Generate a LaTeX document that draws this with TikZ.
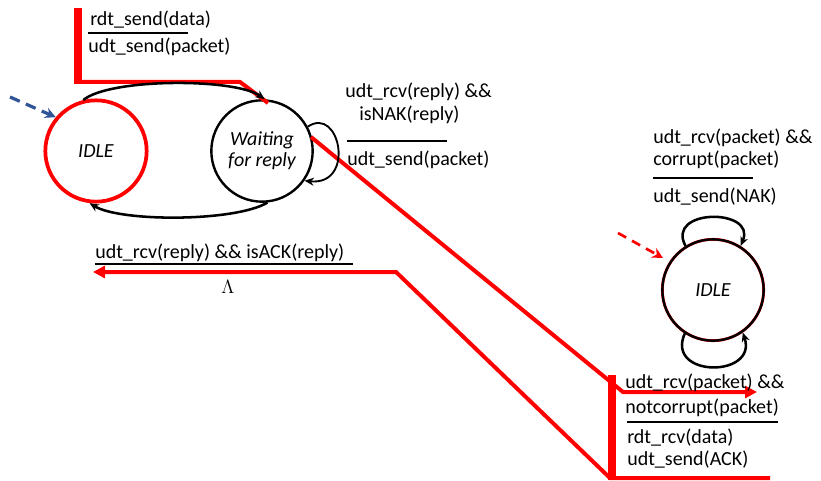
\documentclass[tikz,border=0pt]{standalone}
\usepackage{fontspec}
\setmainfont{Carlito}
\usetikzlibrary{arrows.meta}
\definecolor{hlred}{RGB}{255,0,0}
\definecolor{initblue}{RGB}{47,85,151}
\begin{document}
\begin{tikzpicture}[x=0.75pt,y=-0.75pt,
  every node/.style={font=\fontsize{15}{18}\selectfont},
  lbl/.style={anchor=base west,inner sep=0pt},
  state/.style={circle,draw=black,line width=1.8pt,minimum size=76pt,inner sep=0pt,font=\fontsize{15}{18}\selectfont\itshape,align=center,fill=white},
  trans/.style={line width=1.9pt,-{Stealth[length=7pt,width=6pt]}},
  bar/.style={line width=2.2pt},
  hl/.style={hlred,line width=3pt},
  hlthick/.style={hlred,line width=6pt},
  hlarrow/.style={hl,-{Triangle[length=9pt,width=9pt]}},
]
\useasboundingbox (0,0) rectangle (821,481);

% sender states
\node[state,draw=hlred,line width=2.8pt] (idle) at (96,151) {IDLE};
\node[state] (wait) at (262,151) {Waiting\\[-2pt]for reply};
% receiver state, with a faint red rim under the black outline
\node[state,draw=hlred,line width=2.1pt,fill=none] (ridleR) at (713,290) {};
\node[state,fill=none] (ridle) at (713,290) {IDLE};

% highlighted walk through the transitions
\coordinate (h1) at (78,8);
\coordinate (h2) at (78,82);
\coordinate (h3) at (240,82);
\coordinate (h4) at (268,103);
\draw[hlthick] (h1) -- ([yshift=-1.5pt]h2);
\draw[hl,line join=miter] (h2) -- (h3) -- (h4);

\coordinate (w1) at (311,137);
\coordinate (w2) at (623,392);
\coordinate (w3) at (757,392);
\draw[hlarrow] (w1) -- (w2) -- (w3);

\coordinate (a1) at (770,478);
\coordinate (a2) at (610,478);
\coordinate (a3) at (396,272);
\coordinate (a4) at (93,272);
\draw[hlarrow] (a1) -- (a2) -- (a3) -- (a4);

\coordinate (b1) at (612,375);
\coordinate (b2) at (612,480);
\draw[hlthick] (b1) -- (b2);

% initial-state markers
\coordinate (s0) at (10,97);
\draw[initblue,line width=2.4pt,dash pattern=on 8pt off 5pt,-{Stealth[length=8pt,width=8pt]}] (s0) -- (idle.140);
\coordinate (r0) at (618,233);
\coordinate (r1) at (663,258);
\draw[hlred,line width=2pt,dash pattern=on 7pt off 5pt,-{Stealth[length=8pt,width=8pt]}] (r0) -- (r1);

% sender transitions
\draw[trans] (idle.104) .. controls (110,78) and (235,78) .. (wait.87);
\draw[trans] (wait.-84) .. controls (235,222) and (120,222) .. (idle.-97);
\draw[trans,line width=1.4pt] (wait.28) .. controls (340,105) and (356,186) .. (wait.-35);

% receiver transitions
\draw[trans] (ridle.122) .. controls (665,208) and (757,208) .. (ridle.58);
\draw[trans] (ridle.-123) .. controls (665,378) and (758,378) .. (ridle.-55);

% transition labels
\node[lbl] (l1a) at (90,26) {rdt\_send(data)};
\node[lbl] (l1b) at (88,53) {udt\_send(packet)};
\draw[bar] (88,33) -- (188,33);

\node[lbl] (l2a) at (345,98) {udt\_rcv(reply) \&\&};
\node[lbl] (l2b) at (359,121) {isNAK(reply)};
\draw[bar] (347,141) -- (447,141);
\node[lbl] (l2c) at (347,166) {udt\_send(packet)};

\node[lbl] (l3a) at (95,258) {udt\_rcv(reply) \&\& isACK(reply)};
\draw[bar] (95,264) -- (353,264);
\node[inner sep=0pt,font=\fontsize{15}{18}\selectfont\rmfamily] (l3b) at (228,287) {$\Lambda$};

\node[lbl] (l4a) at (653,144) {udt\_rcv(packet) \&\&};
\node[lbl] (l4b) at (653,166) {corrupt(packet)};
\draw[bar] (653,178) -- (753,178);
\node[lbl] (l4c) at (653,203) {udt\_send(NAK)};

\node[lbl] (l5a) at (625,388) {udt\_rcv(packet) \&\&};
\node[lbl] (l5b) at (625,413) {notcorrupt(packet)};
\draw[bar] (627,422) -- (778,422);
\node[lbl] (l5c) at (627,443) {rdt\_rcv(data)};
\node[lbl] (l5d) at (627,465) {udt\_send(ACK)};
\end{tikzpicture}
\end{document}
